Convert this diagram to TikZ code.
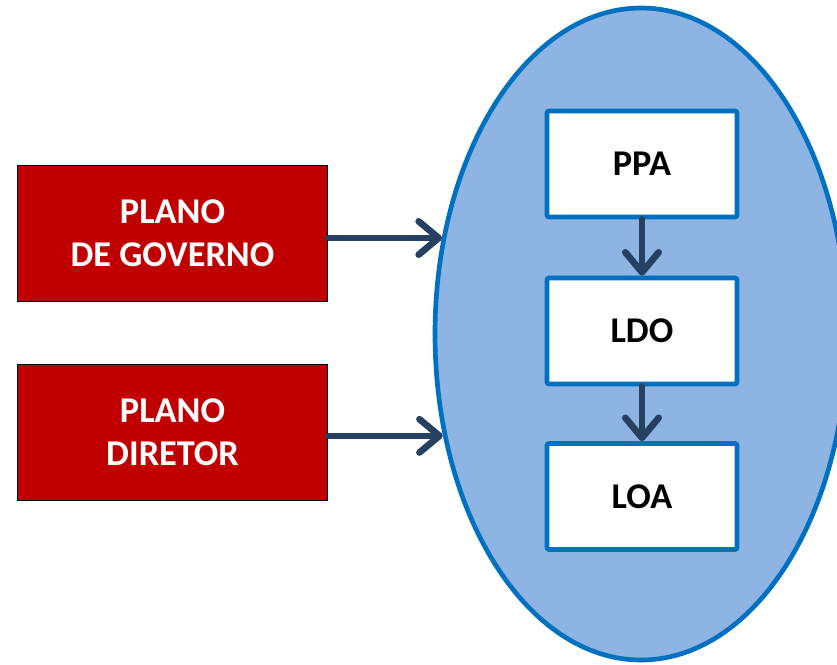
\documentclass[tikz,border=0pt]{standalone}
\usepackage{fontspec}
\setmainfont{Carlito}
\usetikzlibrary{arrows.meta,shapes.geometric}

\definecolor{planred}{RGB}{192,0,0}
\definecolor{planblue}{RGB}{0,112,192}
\definecolor{planfill}{RGB}{141,180,227}
\definecolor{flowblue}{RGB}{37,64,97}

\begin{document}
\begin{tikzpicture}[x=0.75pt,y=0.75pt,yscale=-1,
  redbox/.style={draw=black,line width=0.75pt,fill=planred,text=white,
    minimum width=233pt,minimum height=102pt,align=center,
    font=\fontsize{27.2}{32}\selectfont\bfseries},
  lawbox/.style={draw=planblue,line width=3.5pt,fill=white,rounded corners=1.5pt,
    minimum width=142.5pt,minimum height=79.5pt,
    font=\fontsize{27.2}{32}\selectfont\bfseries},
  flow/.style={draw=flowblue,line width=5pt,line cap=round,
    -{Straight Barb[length=15pt,width=25pt,round]}}]
%set diagram size
\clip (0,0) rectangle (837,664);

%Shape: Ellipse
\node [ellipse,draw=planblue,line width=3.5pt,fill=planfill,inner sep=0pt,
  minimum width=309pt,minimum height=489pt] (plan) at (641,334) {};

% Text Node
\node [redbox] (gov) at (172.5,233) {PLANO\\DE GOVERNO};
% Text Node
\node [redbox] (dir) at (172.5,432.5) {PLANO\\DIRETOR};

% Text Node
\node [lawbox] (ppa) at (642,164) {PPA};
% Text Node
\node [lawbox] (ldo) at (642,331) {LDO};
% Text Node
\node [lawbox] (loa) at (642,496.5) {LOA};

%Straight Lines
\coordinate (govout) at ([yshift=3.75pt]gov.east);
\coordinate (dirout) at ([yshift=2.5pt]dir.east);
\draw [flow] (govout) -- (govout -| plan.154);
\draw [flow] (dirout) -- (dirout -| plan.207.5);
\draw [flow] (ppa.south) -- (ldo.north);
\draw [flow] (ldo.south) -- (loa.north);

\end{tikzpicture}
\end{document}
